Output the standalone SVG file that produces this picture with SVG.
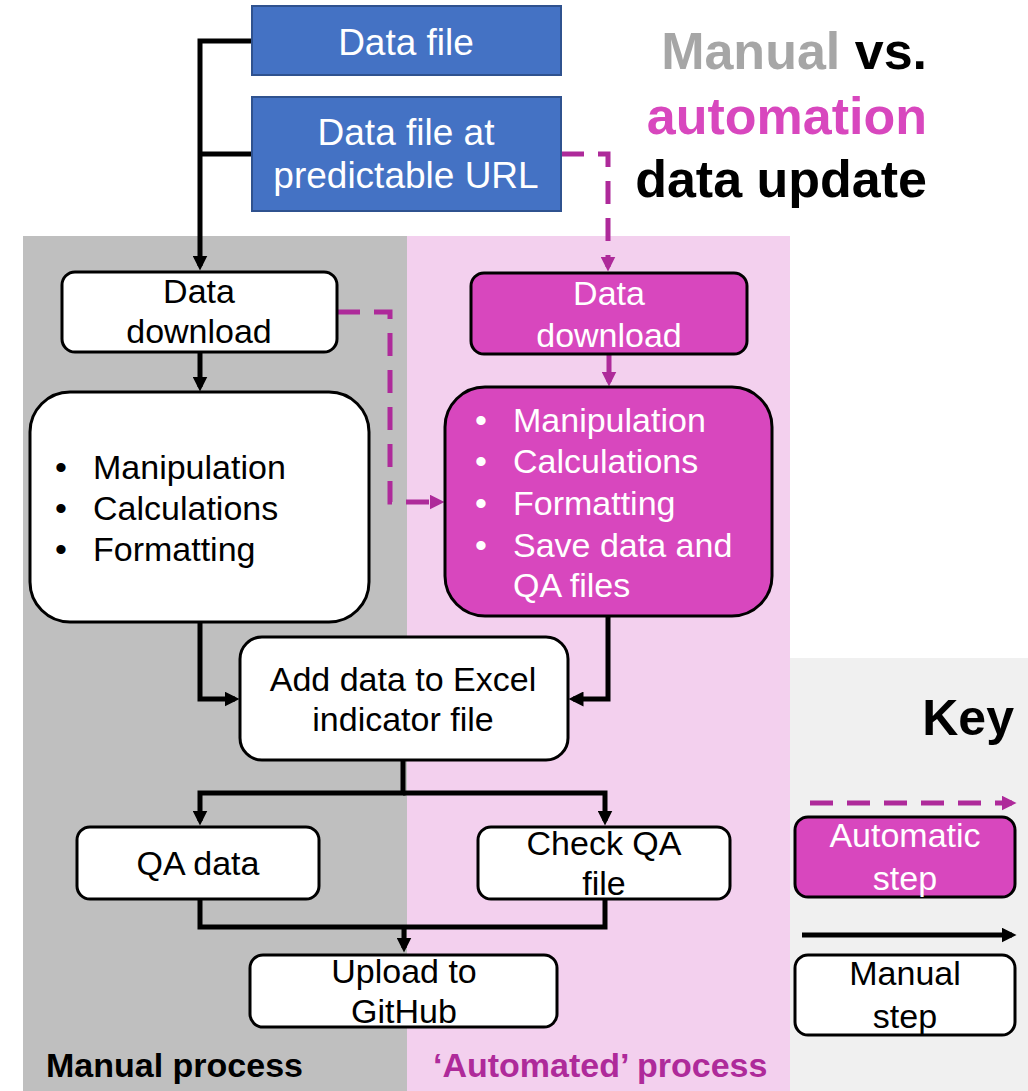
<svg xmlns="http://www.w3.org/2000/svg" width="1028" height="1091" viewBox="0 0 1028 1091">
<style>
text{font-family:"Liberation Sans",Arial,sans-serif;}
.t{font-size:34px;}
.tb{font-size:37px;fill:#fff;}
.c{text-anchor:middle;}
.w{fill:#fff;}
.k{fill:#000;}
.blue{fill:#4472C4;stroke:#2F528F;stroke-width:2;}
.wn{fill:#fff;stroke:#000;stroke-width:3;}
.mn{fill:#D847BE;stroke:#000;stroke-width:3;}
.cb{fill:none;stroke:#000;stroke-width:5;}
.cm{fill:none;stroke:#AE2A9A;stroke-width:5;}
.dash{stroke-dasharray:23 14;}
.bold{font-weight:bold;}
</style>
<defs>
<marker id="ab" viewBox="0 0 10 10" refX="7" refY="5" markerWidth="15" markerHeight="15" markerUnits="userSpaceOnUse" orient="auto"><path d="M0,0 L10,5 L0,10 z" fill="#000"/></marker>
<marker id="am" viewBox="0 0 10 10" refX="7" refY="5" markerWidth="15" markerHeight="15" markerUnits="userSpaceOnUse" orient="auto"><path d="M0,0 L10,5 L0,10 z" fill="#AE2A9A"/></marker>
</defs>
<rect width="1028" height="1091" fill="#fff"/>
<g id="panels">
<rect x="23" y="236" width="384" height="855" fill="#BFBFBF"/>
<rect x="407" y="236" width="383" height="855" fill="#F3D0EE"/>
<rect x="790" y="658" width="238" height="433" fill="#F0F0F0"/>
</g>
<g id="title" class="bold" style="font-size:52px" text-anchor="end">
<text x="927" y="69"><tspan fill="#A6A6A6">Manual</tspan><tspan fill="#000"> vs.</tspan></text>
<text x="927" y="134" fill="#D847BE">automation</text>
<text x="927" y="197" fill="#000">data update</text>
</g>
<g id="connectors">
<path class="cb" d="M252,41 H200 V266" marker-end="url(#ab)"/>
<path class="cb" d="M252,154 H200"/>
<path class="cm dash" d="M561,154 H608 V267" marker-end="url(#am)"/>
<path class="cb" d="M200,352 V387" marker-end="url(#ab)"/>
<path class="cm dash" d="M337,312 H390 V502 H440" marker-end="url(#am)"/>
<path class="cm" d="M609,354 V382" marker-end="url(#am)"/>
<path class="cb" d="M200,622 V699 H235" marker-end="url(#ab)"/>
<path class="cb" d="M608,616 V699 H573" marker-end="url(#ab)"/>
<path class="cb" d="M403,761 V793 H200 V821" marker-end="url(#ab)"/>
<path class="cb" d="M403,793 H605 V821" marker-end="url(#ab)"/>
<path class="cb" d="M200,899 V927 H605 V899"/>
<path class="cb" d="M404,927 V948" marker-end="url(#ab)"/>
<path class="cm dash" d="M810,803 H1012" marker-end="url(#am)"/>
<path class="cb" d="M802,935 H1012" marker-end="url(#ab)"/>
</g>
<g id="n-datafile">
<rect class="blue" x="252" y="6" width="309" height="69"/>
<text class="tb c" x="406" y="55">Data file</text>
</g>
<g id="n-url">
<rect class="blue" x="252" y="97" width="309" height="114"/>
<text class="tb c" x="406" y="145">Data file at</text>
<text class="tb c" x="406" y="188">predictable URL</text>
</g>
<g id="n-dd-manual">
<rect class="wn" x="62" y="272" width="275" height="80" rx="13"/>
<text class="t c" x="199" y="303">Data</text>
<text class="t c" x="199" y="343">download</text>
</g>
<g id="n-proc-manual">
<rect class="wn" x="30" y="392" width="339" height="230" rx="40"/>
<text class="t" x="55" y="479">•</text><text class="t" x="93" y="479">Manipulation</text>
<text class="t" x="55" y="520">•</text><text class="t" x="93" y="520">Calculations</text>
<text class="t" x="55" y="561">•</text><text class="t" x="93" y="561">Formatting</text>
</g>
<g id="n-dd-auto">
<rect class="mn" x="471" y="273" width="276" height="81" rx="13"/>
<text class="t c w" x="609" y="305">Data</text>
<text class="t c w" x="609" y="347">download</text>
</g>
<g id="n-proc-auto">
<rect class="mn" x="445" y="387" width="327" height="229" rx="40"/>
<text class="t w" x="475" y="432">•</text><text class="t w" x="513" y="432">Manipulation</text>
<text class="t w" x="475" y="473">•</text><text class="t w" x="513" y="473">Calculations</text>
<text class="t w" x="475" y="515">•</text><text class="t w" x="513" y="515">Formatting</text>
<text class="t w" x="475" y="557">•</text><text class="t w" x="513" y="557">Save data and</text>
<text class="t w" x="513" y="597">QA files</text>
</g>
<g id="n-excel">
<rect class="wn" x="240" y="637" width="328" height="123" rx="22"/>
<text class="t c" x="403" y="691">Add data to Excel</text>
<text class="t c" x="403" y="731">indicator file</text>
</g>
<g id="n-qa">
<rect class="wn" x="77" y="827" width="242" height="72" rx="13"/>
<text class="t c" x="198" y="875">QA data</text>
</g>
<g id="n-checkqa">
<rect class="wn" x="478" y="827" width="252" height="72" rx="13"/>
<text class="t c" x="604" y="855">Check QA</text>
<text class="t c" x="604" y="895">file</text>
</g>
<g id="n-upload">
<rect class="wn" x="250" y="955" width="307" height="72" rx="13"/>
<text class="t c" x="404" y="983">Upload to</text>
<text class="t c" x="404" y="1023">GitHub</text>
</g>
<g id="labels">
<text class="t bold" x="46" y="1077" fill="#000">Manual process</text>
<text class="t bold" x="433" y="1077" fill="#AE2A9A">‘Automated’ process</text>
</g>
<g id="key">
<text class="bold" x="1014" y="735" text-anchor="end" style="font-size:50px">Key</text>
<rect class="mn" x="795" y="817" width="220" height="80" rx="13"/>
<text class="t c w" x="905" y="847">Automatic</text>
<text class="t c w" x="905" y="890">step</text>
<rect class="wn" x="795" y="955" width="220" height="80" rx="13"/>
<text class="t c" x="905" y="985">Manual</text>
<text class="t c" x="905" y="1028">step</text>
</g>
</svg>
